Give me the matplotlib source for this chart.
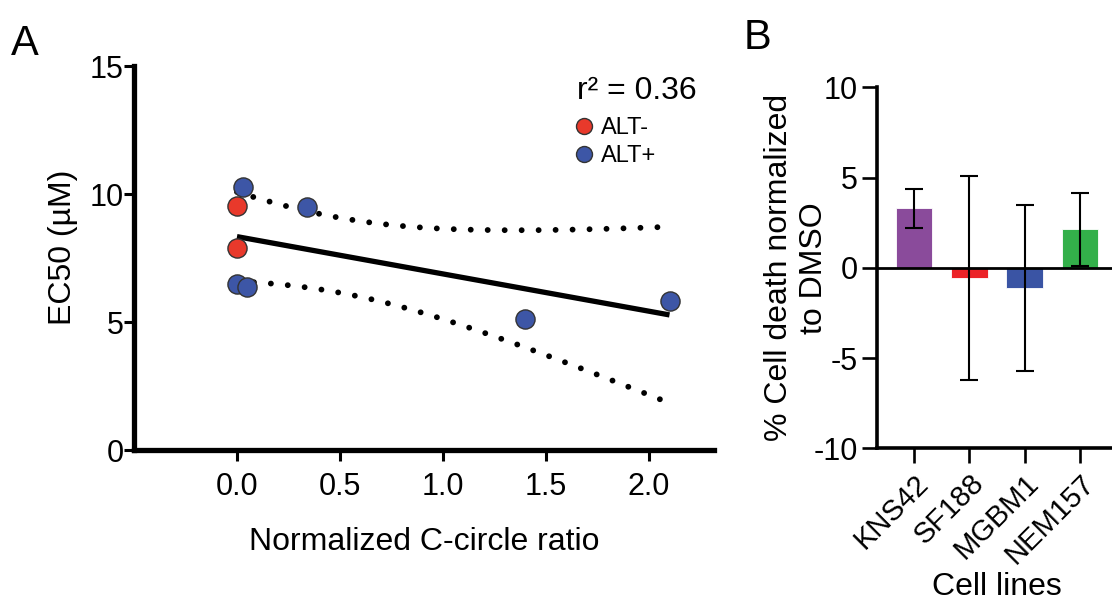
import numpy as np
import matplotlib
matplotlib.use("Agg")
import matplotlib.pyplot as plt
from matplotlib.lines import Line2D

plt.rcParams['font.family'] = ['Liberation Sans', 'DejaVu Sans']
plt.rcParams['axes.unicode_minus'] = False

# ─── Panel A data: EC50 vs normalized C-circle ratio ─────────────────────────
alt_neg_x = [0.0, 0.0]
alt_neg_y = [9.55, 7.90]
alt_pos_x = [0.03, 0.34, 0.0, 0.05, 1.40, 2.10]
alt_pos_y = [10.26, 9.51, 6.47, 6.36, 5.10, 5.82]

# ─── Panel B data: cell death normalized to DMSO ─────────────────────────────
cell_lines = ["KNS42", "SF188", "MGBM1", "NEM157"]
death_mean = [3.30, -0.58, -1.11, 2.13]
death_err = [1.08, 5.65, 4.59, 2.02]
bar_colors = ["#8a4b9b", "#ec2227", "#3a54a4", "#33b04a"]

red = "#e8392b"
blue = "#3d56a6"

# ─── Linear fit + 95% confidence band ────────────────────────────────────────
x_all = np.array(alt_neg_x + alt_pos_x)
y_all = np.array(alt_neg_y + alt_pos_y)
n = len(x_all)
slope, intercept = np.polyfit(x_all, y_all, 1)
r2 = np.corrcoef(x_all, y_all)[0, 1] ** 2
resid = y_all - (intercept + slope * x_all)
s = np.sqrt(np.sum(resid**2) / (n - 2))
sxx = np.sum((x_all - x_all.mean())**2)
t_crit = 2.447  # t(0.975, df=6)

xs = np.linspace(x_all.min(), x_all.max(), 200)
fit = intercept + slope * xs
half = t_crit * s * np.sqrt(1.0 / n + (xs - x_all.mean())**2 / sxx)

fig = plt.figure(figsize=(11.12, 6.02), dpi=100)

# ─── Panel A ──────────────────────────────────────────────────────────────────
ax = fig.add_axes([134/1112, 152/602, 580/1112, 384/602])
ax.plot(xs, fit, color="black", lw=3.8, solid_capstyle="butt", zorder=2)
for band in (fit + half, fit - half):
    ax.plot(xs, band, color="black", lw=4.2, ls=(0, (0.01, 2.9)),
            dash_capstyle="round", zorder=2)
ax.scatter(alt_neg_x, alt_neg_y, s=190, color=red, edgecolor="#333333",
           linewidth=1.0, zorder=3, label="ALT-")
ax.scatter(alt_pos_x, alt_pos_y, s=190, color=blue, edgecolor="#333333",
           linewidth=1.0, zorder=3, label="ALT+")

ax.set_xlim(-0.5, 2.316)
ax.set_ylim(0, 15)
ax.set_xticks([0.0, 0.5, 1.0, 1.5, 2.0])
ax.set_xticklabels(["0.0", "0.5", "1.0", "1.5", "2.0"])
ax.set_yticks([0, 5, 10, 15])
for sp in ("top", "right"):
    ax.spines[sp].set_visible(False)
for sp in ("left", "bottom"):
    ax.spines[sp].set_linewidth(3.8)
ax.tick_params(axis="y", direction="out", length=7, width=2.2, pad=0.5, labelsize=22)
ax.tick_params(axis="x", direction="out", length=8, width=2.2, pad=8, labelsize=22)
ax.set_xlabel("Normalized C-circle ratio", fontsize=23, labelpad=18)
ax.set_ylabel("EC50 (µM)", fontsize=23)
ax.yaxis.set_label_coords(-0.097, 0.527)

ax.text(0.764, 0.935, f"r² = {r2:.2f}", transform=ax.transAxes,
        fontsize=23, ha="left", va="center")
handles = [Line2D([], [], marker="o", ls="none", markersize=11.5, color=red,
                  markeredgecolor="#333333", markeredgewidth=1.0, label="ALT-"),
           Line2D([], [], marker="o", ls="none", markersize=11.5, color=blue,
                  markeredgecolor="#333333", markeredgewidth=1.0, label="ALT+")]
ax.legend(handles=handles, loc="upper left", bbox_to_anchor=(0.758, 0.866),
          frameon=False, fontsize=17, handlelength=0.9, handletextpad=0.25,
          borderpad=0, borderaxespad=0, labelspacing=0.25)

fig.text(11/1112, 1 - 44/602, "A", fontsize=30, ha="left", va="center")

# ─── Panel B ──────────────────────────────────────────────────────────────────
bx = fig.add_axes([877/1112, 153.7/602, 240/1112, 361/602])
pos = np.arange(len(cell_lines))
bx.bar(pos, death_mean, width=0.66, color=bar_colors, edgecolor="white",
       linewidth=0.6, zorder=2)
bx.axhline(0, color="black", lw=2.0, zorder=3)
bx.errorbar(pos, death_mean, yerr=death_err, fmt="none", ecolor="black",
            elinewidth=1.5, capsize=6.5, capthick=1.5, zorder=4)

bx.set_xlim(-0.67, 3.67)
bx.set_ylim(-10, 10)
bx.set_yticks([-10, -5, 0, 5, 10])
bx.set_xticks(pos)
bx.set_xticklabels(cell_lines, rotation=45, ha="right", va="top",
                   rotation_mode="anchor")
for sp in ("top", "right"):
    bx.spines[sp].set_visible(False)
for sp in ("left", "bottom"):
    bx.spines[sp].set_linewidth(2.6)
bx.tick_params(axis="y", direction="out", length=11, width=1.9, pad=3, labelsize=22)
bx.tick_params(axis="x", direction="out", length=11, width=1.9, pad=4, labelsize=21)
bx.set_xlabel("Cell lines", fontsize=23, labelpad=2)
bx.set_ylabel("% Cell death normalized\nto DMSO", fontsize=23, linespacing=1.2)
bx.yaxis.set_label_coords(-0.2, 0.5)

fig.text(744/1112, 1 - 38/602, "B", fontsize=30, ha="left", va="center")

fig.savefig("out.png", dpi=100)
